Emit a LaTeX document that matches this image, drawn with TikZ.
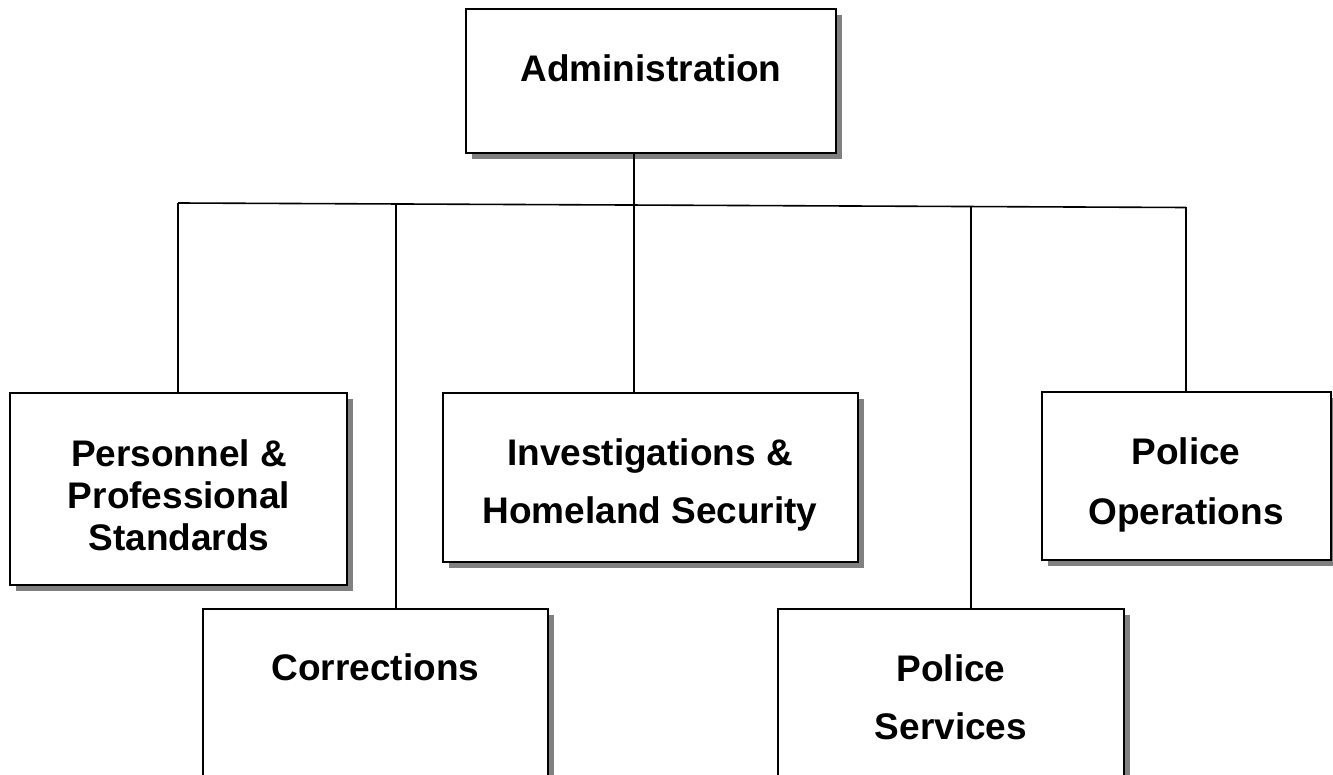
\documentclass[tikz,border=0pt]{standalone}
\usepackage{fontspec}
\setmainfont{Liberation Sans}
\usetikzlibrary{positioning, shadows, calc}

\begin{document}
\begin{tikzpicture}[
  x=0.5pt, y=-0.5pt,
  every node/.style={font=\fontsize{18.5}{29}\selectfont\bfseries},
  unit/.style={draw, fill=white, line width=1pt, inner sep=0pt, outer sep=0pt,
               general shadow={fill=black!50, shadow xshift=3pt, shadow yshift=-3pt}},
  lbl/.style={align=center, inner sep=0pt},
  link/.style={line width=0.8pt}
]
\clip (0,0) rectangle (1333,775);

% ---- Boxes ----
\node[unit, minimum width=185pt, minimum height=72pt] (admin) at (651,81) {};
\node[unit, minimum width=168.5pt, minimum height=96pt] (pers) at (178.5,489) {};
\node[unit, minimum width=207.5pt, minimum height=84.5pt] (invest) at (650.5,477.5) {};
\node[unit, minimum width=144.5pt, minimum height=84pt] (ops) at (1186.5,476) {};
\node[unit, minimum width=172.5pt, minimum height=100pt] (corr) at (375.5,709) {};
\node[unit, minimum width=173pt, minimum height=100pt] (serv) at (951,709) {};

% ---- Labels ----
\node[lbl] (adminT) at (651,68.5) {Administration};
\node[lbl, font=\fontsize{18.5}{21}\selectfont\bfseries] (persT) at (179,495)
  {Personnel \&\\ Professional\\ Standards};
\node[lbl] (investT) at (650,485) {Investigations \&\\ Homeland Security};
\node[lbl, font=\fontsize{18.5}{30}\selectfont\bfseries] (opsT) at (1186,485)
  {Police\\ Operations};
\node[lbl] (corrT) at (375.5,667) {Corrections};
\node[lbl] (servT) at (951,697.5) {Police\\ Services};

% ---- Bus line and drops ----
\coordinate (busL) at (178,203);
\coordinate (busR) at (1186,207.5);
\coordinate (dCorr) at ($(busL)!0.2163!(busR)$);
\coordinate (trunk) at ($(busL)!0.4524!(busR)$);
\coordinate (dServ) at ($(busL)!0.7867!(busR)$);

\draw[link] (busL) -- (busR);
\draw[link] (admin.south -| trunk) -- (invest.north -| trunk);
\draw[link] (busL) -- (busL |- pers.north);
\draw[link] (dCorr) -- (dCorr |- corr.north);
\draw[link] (dServ) -- (dServ |- serv.north);
\draw[link] (busR) -- (busR |- ops.north);

\end{tikzpicture}
\end{document}
